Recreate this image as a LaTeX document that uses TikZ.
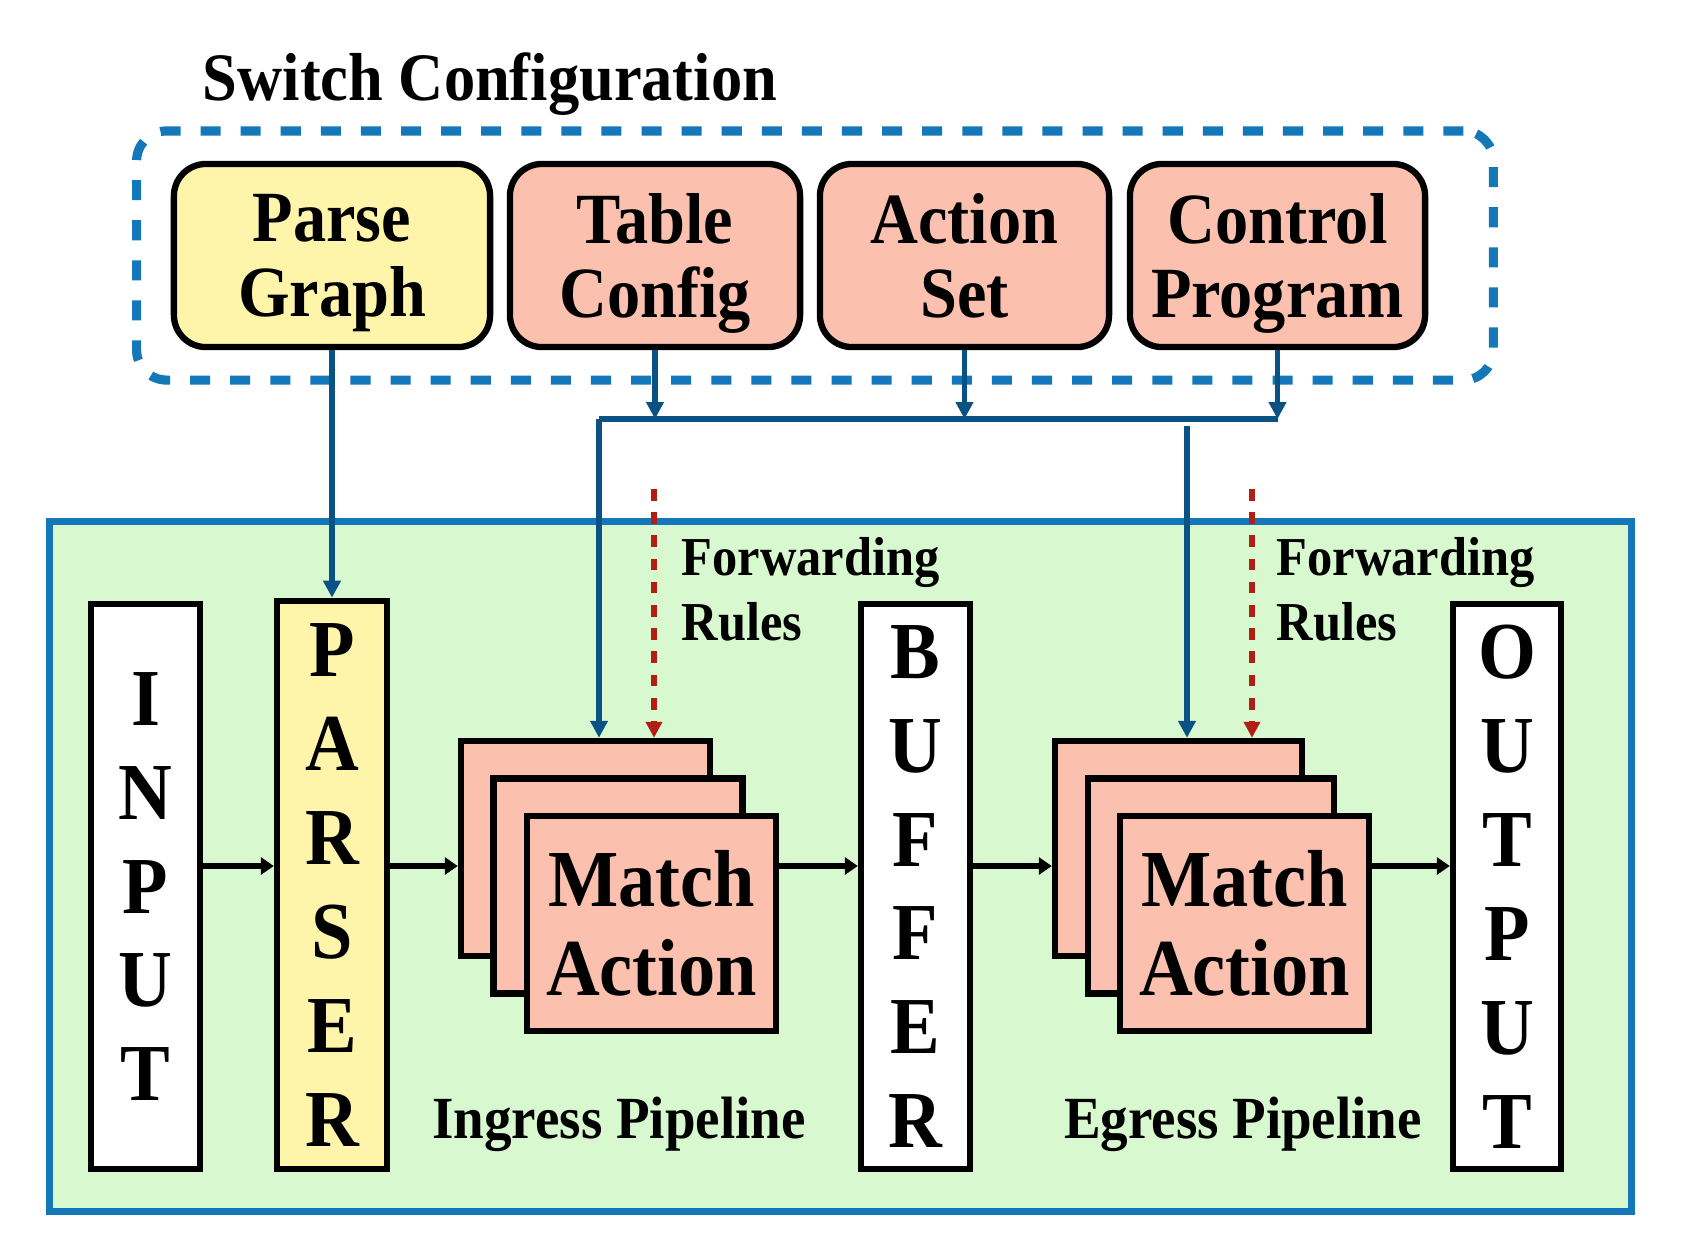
\documentclass[tikz,border=0pt]{standalone}
\usepackage{fontspec}
\setmainfont{Liberation Serif}[FakeStretch=0.92]
\usetikzlibrary{arrows.meta}
\definecolor{dashblue}{HTML}{1477BA}
\definecolor{linkblue}{HTML}{0B5284}
\definecolor{fwdred}{HTML}{B01E14}
\definecolor{pgyellow}{HTML}{FFF5AA}
\definecolor{salmon}{HTML}{FBC0AE}
\definecolor{pipegreen}{HTML}{D8F8CF}
\begin{document}
\begin{tikzpicture}[x=0.01cm,y=-0.01cm,
  cfgbox/.style={draw=black, line width=1.8pt, rounded corners=0.32cm, align=center,
    inner sep=0pt, minimum height=1.83cm, text depth=0pt, font=\fontsize{20.5}{21.3}\selectfont\bfseries},
  colbox/.style={draw=black, line width=1.8pt, align=center, inner sep=0pt,
    minimum width=1.09cm, minimum height=5.65cm, font=\fontsize{23}{26.7}\selectfont\bfseries},
  mabox/.style={draw=black, line width=1.8pt, fill=salmon, align=center, inner sep=0pt,
    minimum width=2.49cm, minimum height=2.15cm, font=\fontsize{23}{25.4}\selectfont\bfseries},
  link/.style={draw=linkblue, line width=1.6pt},
  linkarrow/.style={link, -{Triangle[length=1.7mm,width=1.7mm]}},
  fwdarrow/.style={draw=fwdred, line width=1.5pt, dash pattern=on 3.3pt off 3.3pt,
    -{Triangle[length=1.6mm,width=1.6mm,fill=fwdred]}},
  flow/.style={draw=black, line width=1.7pt, -{Triangle[length=1.3mm,width=1.7mm]}},
  fwdlabel/.style={align=left, inner sep=0pt, anchor=north west, font=\fontsize{15.6}{18.3}\selectfont\bfseries},
  pipelabel/.style={inner sep=0pt, font=\fontsize{17}{18}\selectfont\bfseries}
]
\useasboundingbox (0,0) rectangle (1684,1250);

% background pipeline box
\node[draw=dashblue, fill=pipegreen, line width=2pt, minimum width=15.81cm, minimum height=6.89cm, inner sep=0pt] (pipe) at (840.5,866.5) {};

% title and configuration group
\node[inner sep=0pt, font=\fontsize{19.3}{20}\selectfont\bfseries] (title) at (490,84) {Switch Configuration};
\node[draw=dashblue, line width=2.6pt, dash pattern=on 5.7pt off 5.7pt, rounded corners=0.3cm,
  minimum width=13.56cm, minimum height=2.49cm, inner sep=0pt] (cfg) at (815,255.5) {};

\node[cfgbox, fill=pgyellow, minimum width=3.16cm] (pg) at (332,255.5) {Parse\\Graph};
\node[cfgbox, fill=salmon, minimum width=2.90cm] (tc) at (655,255.5) {Table\\Config};
\node[cfgbox, fill=salmon, minimum width=2.89cm] (as) at (964.5,255.5) {Action\\Set};
\node[cfgbox, fill=salmon, minimum width=2.95cm] (cp) at (1277.5,255.5) {Control\\Program};

% pipeline columns
\node[colbox, fill=white] (inp) at (145.5,886.5) {I\\N\\P\\U\\T};
\node[colbox, fill=pgyellow, minimum width=1.10cm, minimum height=5.68cm] (par) at (332,885) {P\\A\\R\\S\\E\\R};
\node[colbox, fill=white] (buf) at (915.5,886.5) {B\\U\\F\\F\\E\\R};
\node[colbox, fill=white, minimum width=1.08cm] (out) at (1507,886.5) {O\\U\\T\\P\\U\\T};

% match-action stacks
\node[mabox] (ib1) at (585.5,848.5) {};
\node[mabox] (ib2) at (618,886) {};
\node[mabox] (ib3) at (651.5,923.5) {Match\\Action};
\node[mabox, minimum width=2.47cm] (eb1) at (1178.5,848.5) {};
\node[mabox, minimum width=2.46cm] (eb2) at (1211,886) {};
\node[mabox] (eb3) at (1244.5,923.5) {Match\\Action};

% labels
\node[fwdlabel] (fr1) at (681,537) {Forwarding\\Rules};
\node[fwdlabel] (fr2) at (1276,537) {Forwarding\\Rules};
\node[pipelabel] (ing) at (619,1124) {Ingress Pipeline};
\node[pipelabel] (egr) at (1243,1124) {Egress Pipeline};

% configuration connectors
\coordinate (busL) at (599,419);
\coordinate (busR) at (1277.5,419);
\coordinate (egTop) at (1187,426);
\draw[linkarrow] (pg.south) -- (par.north);
\draw[linkarrow] (tc.south) -- (tc.south |- busL);
\draw[linkarrow] (as.south) -- (as.south |- busL);
\draw[linkarrow] (cp.south) -- (busR);
\draw[link] (busL) -- (busR);
\draw[linkarrow] (busL) -- (busL |- ib1.north);
\draw[linkarrow] (egTop) -- (egTop |- eb1.north);

% forwarding rules
\coordinate (fwI) at (654,489);
\coordinate (fwE) at (1252,489);
\draw[fwdarrow] (fwI) -- (fwI |- ib1.north);
\draw[fwdarrow] (fwE) -- (fwE |- eb1.north);

% data flow
\coordinate (row) at (0,866);
\draw[flow] (inp.east |- row) -- (par.west |- row);
\draw[flow] (par.east |- row) -- (ib1.west |- row);
\draw[flow] (ib3.east |- row) -- (buf.west |- row);
\draw[flow] (buf.east |- row) -- (eb1.west |- row);
\draw[flow] (eb3.east |- row) -- (out.west |- row);
\end{tikzpicture}
\end{document}
